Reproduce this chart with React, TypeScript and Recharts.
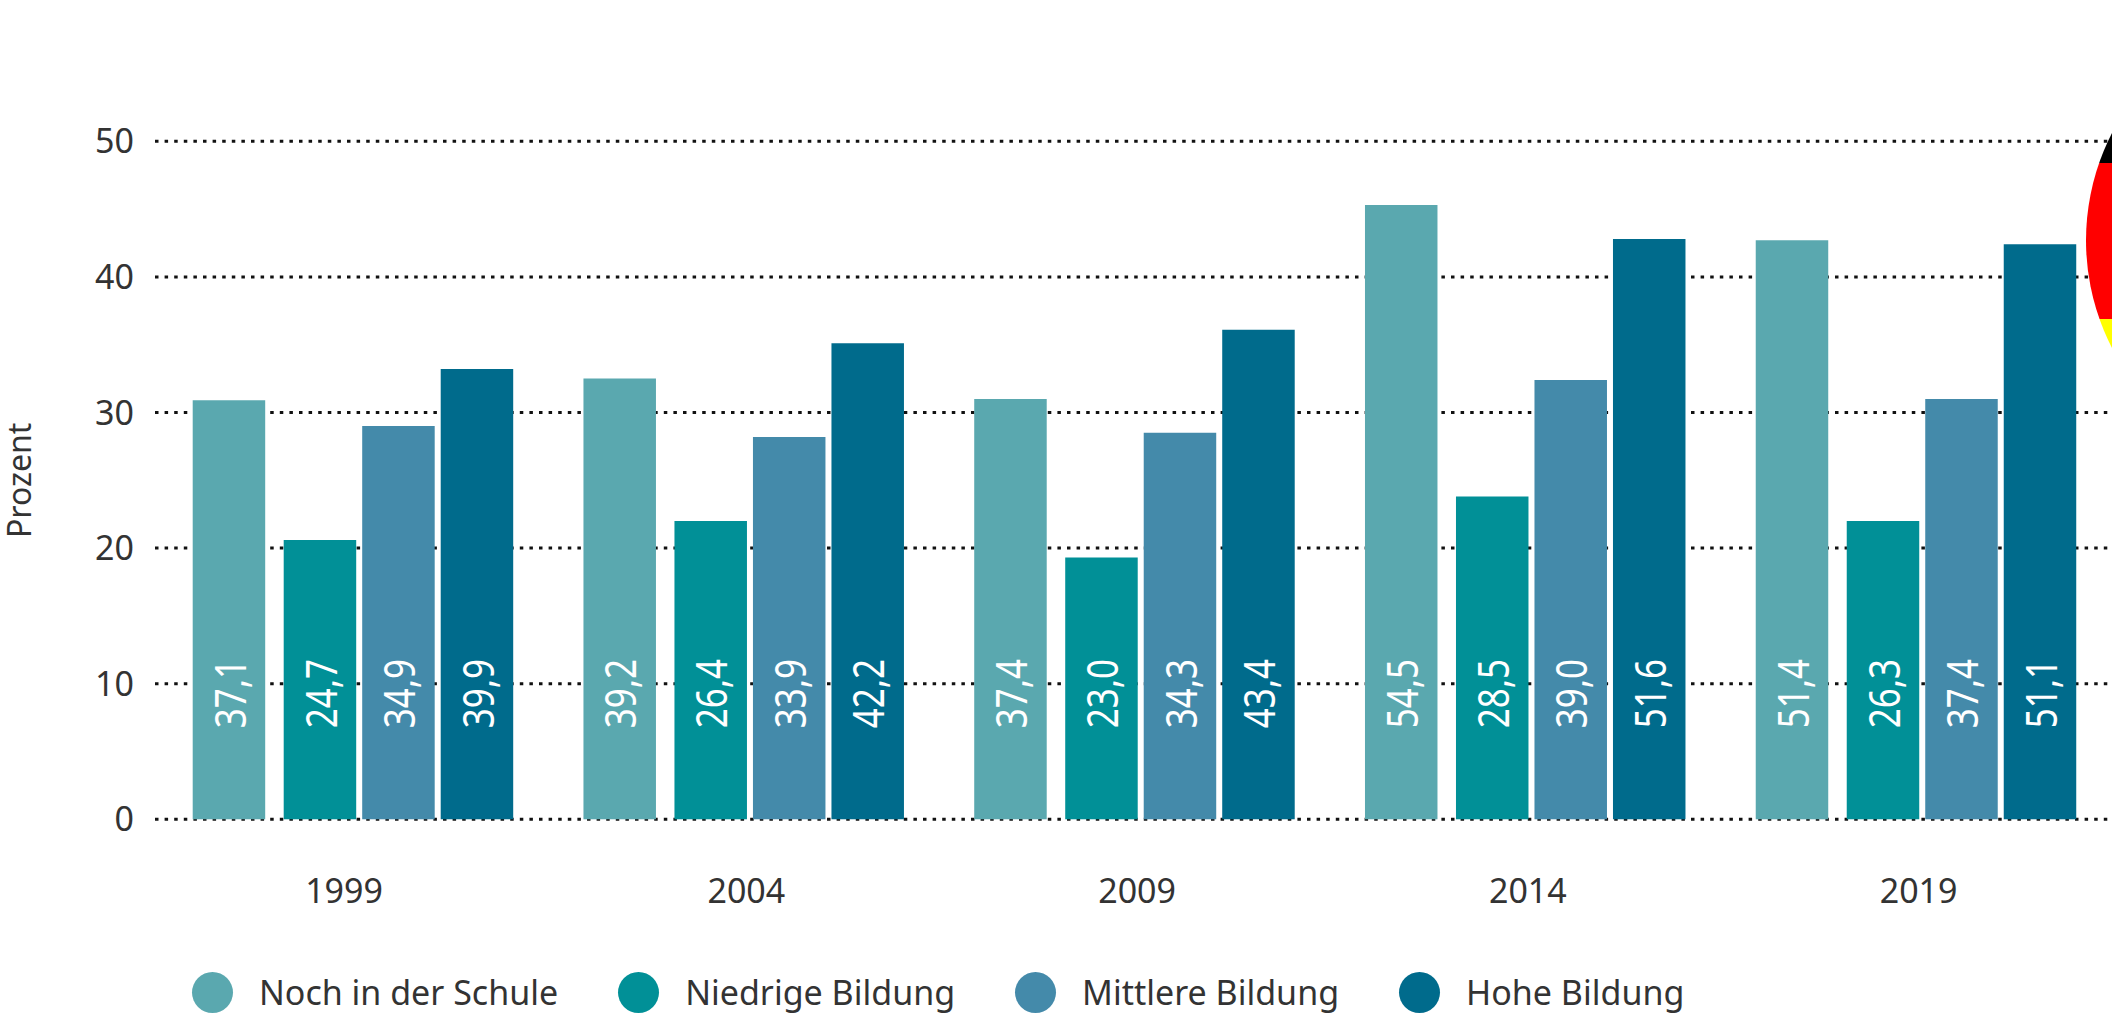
import { BarChart, Bar, XAxis, YAxis, CartesianGrid, LabelList, Legend, Rectangle } from "recharts";

const YEARS = ["1999", "2004", "2009", "2014", "2019"];
const SCHULE = [30.9, 32.5, 31.0, 45.3, 42.7];
const NIEDRIG = [20.6, 22.0, 19.3, 23.8, 22.0];
const MITTEL = [29.0, 28.2, 28.5, 32.4, 31.0];
const HOCH = [33.2, 35.1, 36.1, 42.8, 42.4];

const SCHULE_LABELS = ["37,1", "39,2", "37,4", "54,5", "51,4"];
const NIEDRIG_LABELS = ["24,7", "26,4", "23,0", "28,5", "26,3"];
const MITTEL_LABELS = ["34,9", "33,9", "34,3", "39,0", "37,4"];
const HOCH_LABELS = ["39,9", "42,2", "43,4", "51,6", "51,1"];

const Y_TICKS = [0, 10, 20, 30, 40, 50];

const SERIES = [
  { key: "schule", name: "Noch in der Schule", color: "#5aa8af", shift: -12.5 },
  { key: "niedrig", name: "Niedrige Bildung", color: "#019097", shift: 0 },
  { key: "mittel", name: "Mittlere Bildung", color: "#448aaa", shift: 0 },
  { key: "hoch", name: "Hohe Bildung", color: "#006b8c", shift: 0 },
];

const data = YEARS.map((year, i) => ({
  year,
  schule: SCHULE[i],
  niedrig: NIEDRIG[i],
  mittel: MITTEL[i],
  hoch: HOCH[i],
  schuleLabel: SCHULE_LABELS[i],
  niedrigLabel: NIEDRIG_LABELS[i],
  mittelLabel: MITTEL_LABELS[i],
  hochLabel: HOCH_LABELS[i],
}));

const FONT = "'Noto Sans', sans-serif";
const TEXT = "#333333";
const BASELINE = 819.3;

function YearTick({ x, y, payload, index }: any) {
  const dx = index === 0 ? -15.5 : -4;
  return (
    <text x={x + dx} y={y + 63} textAnchor="middle" dominantBaseline="central" fontFamily={FONT} fontSize={34} fill={TEXT}>
      {payload.value}
    </text>
  );
}

function ValueLabel({ x, width, value, shift }: any) {
  const cx = x + width / 2 + shift;
  return (
    <text
      transform={`translate(${cx} ${BASELINE - 91}) rotate(-90) scale(1 1.25)`}
      textAnchor="start"
      dominantBaseline="central"
      fontFamily={FONT}
      fontSize={35}
      fill="#ffffff"
    >
      {value}
    </text>
  );
}

function ChartLegend() {
  return (
    <div style={{ display: "flex", height: 44, alignItems: "center", gap: 60, fontFamily: FONT, fontSize: 34, color: TEXT }}>
      {SERIES.map((s) => (
        <div key={s.key} style={{ display: "flex", alignItems: "center", whiteSpace: "nowrap" }}>
          <span style={{ width: 41, height: 41, borderRadius: "50%", background: s.color, marginRight: 26 }} />
          {s.name}
        </div>
      ))}
    </div>
  );
}

export default function App() {
  return (
    <div style={{ position: "absolute", left: 0, top: 0, width: 2112, height: 1014, overflow: "hidden", background: "#fff" }}>
      <BarChart
        width={2118}
        height={1014}
        data={data}
        barSize={72.5}
        barGap={6}
        margin={{ top: 141.3, right: 0, bottom: 0, left: 0 }}
      >
        <CartesianGrid vertical={false} stroke="#111111" strokeWidth={3} strokeDasharray="3.5 6.1" />
        <XAxis
          dataKey="year"
          height={150.7}
          padding={{ left: 9.2, right: 0 }}
          axisLine={false}
          tickLine={false}
          interval={0}
          tick={<YearTick />}
        />
        <YAxis
          width={155}
          domain={[0, 50]}
          ticks={Y_TICKS}
          axisLine={false}
          tickLine={false}
          tickMargin={15}
          tick={{ fontFamily: FONT, fontSize: 34, fill: TEXT }}
          label={{
            value: "Prozent",
            angle: -90,
            position: "insideLeft",
            offset: 20,
            style: { fontFamily: FONT, fontSize: 32, fill: TEXT, textAnchor: "middle" },
          }}
        />
        <Legend
          verticalAlign="bottom"
          content={<ChartLegend />}
          wrapperStyle={{ left: 192, width: "auto" }}
        />
        {SERIES.map((s) => (
          <Bar
            key={s.key}
            dataKey={s.key}
            name={s.name}
            fill={s.color}
            isAnimationActive={false}
            shape={(props: any) => <Rectangle {...props} x={props.x + s.shift} />}
          >
            <LabelList dataKey={`${s.key}Label`} content={<ValueLabel shift={s.shift} />} />
          </Bar>
        ))}
      </BarChart>
      <svg width={2112} height={1014} style={{ position: "absolute", left: 0, top: 0, pointerEvents: "none" }}>
        <defs>
          <clipPath id="flag-circle">
            <circle cx={2321} cy={240.5} r={235} />
          </clipPath>
        </defs>
        <g clipPath="url(#flag-circle)">
          <rect x={2080} y={0} width={40} height={163} fill="#000000" />
          <rect x={2080} y={163} width={40} height={156} fill="#ff0000" />
          <rect x={2080} y={319} width={40} height={160} fill="#ffff00" />
        </g>
      </svg>
    </div>
  );
}
